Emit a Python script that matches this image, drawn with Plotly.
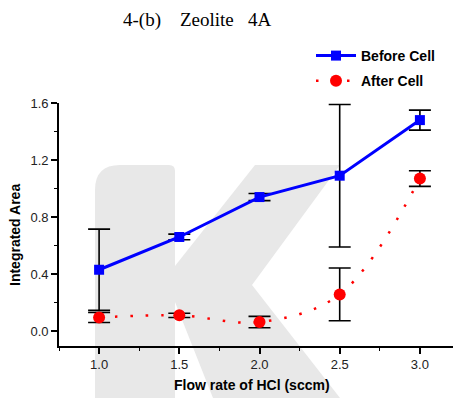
import plotly.graph_objects as go

# ---- data ----
flow_rate = [1.0, 1.5, 2.0, 2.5, 3.0]
before_cell = [0.43, 0.66, 0.94, 1.09, 1.48]
before_err = [0.285, 0.02, 0.025, 0.50, 0.07]
after_cell = [0.095, 0.11, 0.063, 0.257, 1.07]
after_err = [0.035, 0.015, 0.04, 0.185, 0.055]
x_ticks = [1.0, 1.5, 2.0, 2.5, 3.0]
y_ticks = [0.0, 0.4, 0.8, 1.2, 1.6]

# page layout (the html body adds an 8px offset, compensated below)
OFF = 8
W, H = 461, 398
PL, PR, PT, PB = 59, 460, 103, 346          # plot area in page pixels
L, T = PL - OFF, PT - OFF
R, B = W - (PR - OFF), H - (PB - OFF)
PW, PH = PR - PL, PB - PT


def px(x):
    return (x - PL) / PW


def py(y):
    return (PB - y) / PH


fig = go.Figure()

fig.add_trace(go.Scatter(
    x=flow_rate, y=after_cell, name="<b>After Cell</b>", legendgroup="a", legendrank=2,
    mode="lines+markers",
    line=dict(color="#ff0000", width=2.5, dash="2.5px,13px", shape="spline", smoothing=1.0),
    marker=dict(symbol="circle", size=12, color="#ff0000"),
    error_y=dict(type="data", array=after_err, visible=True, color="black", thickness=1.6, width=11),
))
fig.add_trace(go.Scatter(
    x=flow_rate, y=before_cell, name="<b>Before Cell</b>", legendgroup="b", legendrank=1,
    mode="lines+markers",
    line=dict(color="#0000ff", width=3),
    marker=dict(symbol="square", size=10, color="#0000ff"),
    error_y=dict(type="data", array=before_err, visible=True, color="black", thickness=1.6, width=11),
))

# watermark "K" (light grey background decoration)
path = "M {},{} ".format(px(213), py(398))
path += "L {},{} ".format(px(175), py(302))
path += "L {},{} ".format(px(175), py(398))
path += "L {},{} ".format(px(95), py(398))
path += "L {},{} ".format(px(95), py(190))
path += "Q {},{} {},{} ".format(px(95), py(165), px(120), py(165))
path += "L {},{} ".format(px(169), py(165))
path += "Q {},{} {},{} ".format(px(175), py(165), px(175), py(171))
path += "L {},{} ".format(px(175), py(266))
path += "L {},{} ".format(px(255), py(165))
path += "L {},{} ".format(px(340), py(165))
path += "L {},{} ".format(px(252), py(285))
path += "L {},{} Z".format(px(340), py(398))
fig.add_shape(type="path", path=path, xref="paper", yref="paper",
              fillcolor="#e8e8e8", line=dict(width=0), layer="below")

axis_font = dict(family="Liberation Sans, Arial, sans-serif", size=13, color="#222222")

fig.update_xaxes(
    range=[0.75, 3.25], tickvals=x_ticks, ticktext=["%.1f" % v for v in x_ticks],
    showline=True, linecolor="black", linewidth=1.6, mirror=False,
    ticks="outside", ticklen=6, tickwidth=1.6, tickcolor="black",
    minor=dict(ticks="outside", ticklen=3, tickwidth=1.4, tickcolor="black", dtick=0.25, tick0=0.75),
    showgrid=False, zeroline=False, tickfont=axis_font,
)
fig.update_yaxes(
    range=[-0.105, 1.6], tickvals=y_ticks, ticktext=["%.1f" % v for v in y_ticks],
    showline=True, linecolor="black", linewidth=1.6, mirror=False,
    ticks="outside", ticklen=6, tickwidth=1.6, tickcolor="black",
    minor=dict(ticks="outside", ticklen=3, tickwidth=1.4, tickcolor="black", dtick=0.2, tick0=0),
    showgrid=False, zeroline=False, tickfont=axis_font,
)

title_font = dict(family="Liberation Sans, Arial, sans-serif", size=14, color="black")
fig.update_layout(
    width=W, height=H,
    margin=dict(l=L, r=R, t=T, b=B, pad=0),
    paper_bgcolor="white", plot_bgcolor="rgba(0,0,0,0)",
    showlegend=True,
    legend=dict(x=px(311), y=py(40), xanchor="left", yanchor="top",
                font=dict(family="Liberation Sans, Arial, sans-serif", size=14, color="black"),
                bgcolor="rgba(0,0,0,0)", traceorder="grouped", itemwidth=40,
                tracegroupgap=4),
    annotations=[
        dict(text="4-(b)&nbsp;&nbsp;&nbsp;&nbsp;Zeolite&nbsp;&nbsp;&nbsp;4A", x=px(197), y=py(20),
             xref="paper", yref="paper",
             xanchor="center", yanchor="middle", showarrow=False,
             font=dict(family="Liberation Serif, Times New Roman, serif", size=19, color="black")),
        dict(text="<b>Integrated Area</b>", x=px(15), y=py(235), xref="paper", yref="paper",
             xanchor="center", yanchor="middle", showarrow=False, textangle=-90, font=title_font),
        dict(text="<b>Flow rate of HCl (sccm)</b>", x=px(252), y=py(385), xref="paper", yref="paper",
             xanchor="center", yanchor="middle", showarrow=False, font=title_font),
    ],
)

fig.write_html("out.html")
